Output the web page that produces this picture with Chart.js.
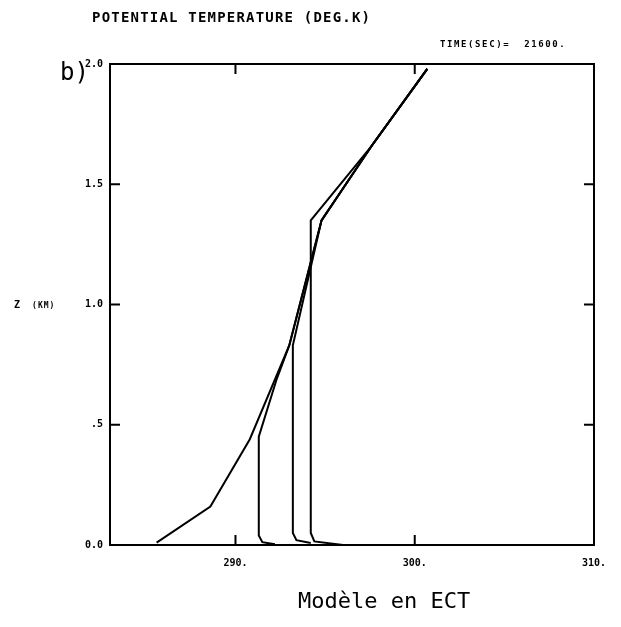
<!DOCTYPE html>
<html>
<head>
<meta charset="utf-8">
<script src="https://cdn.jsdelivr.net/npm/chart.js@4.4.1/dist/chart.umd.min.js"></script>
<style>
  html, body { margin: 0; padding: 0; background: #fff; }
  #wrap { position: relative; width: 621px; height: 627px; }
  #c { position: absolute; left: 0; top: 0; }
  .t { position: absolute; font-family: "DejaVu Sans Mono", monospace; color: #000; white-space: pre; }
</style>
</head>
<body>
<div id="wrap">
  <canvas id="c" width="621" height="627"></canvas>
  <div class="t" style="left:92px; top:9px; font-size:14px; font-weight:bold; letter-spacing:1.2px;">POTENTIAL TEMPERATURE (DEG.K)</div>
  <div class="t" style="left:440px; top:39px; font-size:9px; font-weight:bold; letter-spacing:1.6px;">TIME(SEC)=  21600.</div>
  <div class="t" style="left:60px; top:58px; font-size:24px;">b)</div>
  <div class="t" style="left:14px; top:299px; font-size:10px; font-weight:bold;">Z  <span style="font-size:8px; letter-spacing:1px;">(KM)</span></div>
  <div class="t" style="left:298px; top:588px; font-size:22px;">Modèle en ECT</div>
</div>
<script>
// Axis ticks
const xTicks = [290, 300, 310];
const xTickLabels = ['290.', '300.', '310.'];
const yTicks = [0, 0.5, 1.0, 1.5, 2.0];
const yTickLabels = ['0.0', '.5', '1.0', '1.5', '2.0'];

// Potential temperature profiles (deg K) versus height (km)
const profileA_theta = [285.6, 288.6, 290.8, 293.0, 294.8, 297.6, 300.7];
const profileA_z     = [0.01, 0.16, 0.44, 0.83, 1.35, 1.66, 1.98];
const profileB_theta = [292.2, 291.5, 291.3, 291.3, 292.3, 293.0, 294.8, 297.6, 300.7];
const profileB_z     = [0.003, 0.012, 0.04, 0.45, 0.69, 0.83, 1.35, 1.66, 1.98];
const profileC_theta = [294.2, 293.4, 293.2, 293.2, 294.8, 297.6, 300.7];
const profileC_z     = [0.008, 0.02, 0.05, 0.83, 1.35, 1.66, 1.98];
const profileD_theta = [296.0, 294.4, 294.2, 294.2, 297.6, 300.7];
const profileD_z     = [0.0, 0.015, 0.05, 1.35, 1.66, 1.98];

function pts(th, z) { return th.map((t, i) => ({ x: t, y: z[i] })); }
function ds(th, z) {
  return { data: pts(th, z), showLine: true, borderColor: '#000', borderWidth: 2,
           pointRadius: 0, fill: false, tension: 0 };
}

const boxTicks = {
  id: 'boxTicks',
  afterDraw(chart) {
    const { ctx, chartArea: a, scales } = chart;
    ctx.save();
    ctx.strokeStyle = '#000';
    ctx.lineWidth = 2;
    ctx.strokeRect(a.left, a.top, a.right - a.left, a.bottom - a.top);
    const L = 10;
    ctx.beginPath();
    xTicks.forEach(v => {
      const px = scales.x.getPixelForValue(v);
      ctx.moveTo(px, a.bottom); ctx.lineTo(px, a.bottom - L);
      ctx.moveTo(px, a.top); ctx.lineTo(px, a.top + L);
    });
    yTicks.forEach(v => {
      const py = scales.y.getPixelForValue(v);
      ctx.moveTo(a.left, py); ctx.lineTo(a.left + L, py);
      ctx.moveTo(a.right, py); ctx.lineTo(a.right - L, py);
    });
    ctx.stroke();
    ctx.restore();
  }
};

new Chart(document.getElementById('c'), {
  type: 'scatter',
  data: { datasets: [
    ds(profileA_theta, profileA_z),
    ds(profileB_theta, profileB_z),
    ds(profileC_theta, profileC_z),
    ds(profileD_theta, profileD_z)
  ] },
  options: {
    responsive: false,
    animation: false,
    layout: { padding: { top: 64, right: 27, bottom: 0, left: 0 } },
    plugins: { legend: { display: false }, tooltip: { enabled: false } },
    scales: {
      x: {
        type: 'linear', min: 283, max: 310,
        afterBuildTicks(s) { s.ticks = xTicks.map(v => ({ value: v })); },
        afterFit(s) { s.height = 82; },
        grid: { display: false, drawTicks: false },
        border: { display: false },
        ticks: {
          padding: 12, color: '#000', maxRotation: 0,
          font: { family: 'DejaVu Sans Mono', size: 10, weight: 'bold' },
          callback(v) { const i = xTicks.indexOf(v); return i >= 0 ? xTickLabels[i] : ''; }
        }
      },
      y: {
        type: 'linear', min: 0, max: 2,
        afterBuildTicks(s) { s.ticks = yTicks.map(v => ({ value: v })); },
        afterFit(s) { s.width = 110; },
        grid: { display: false, drawTicks: false },
        border: { display: false },
        ticks: {
          padding: 7, color: '#000',
          font: { family: 'DejaVu Sans Mono', size: 10, weight: 'bold' },
          callback(v) { const i = yTicks.indexOf(v); return i >= 0 ? yTickLabels[i] : ''; }
        }
      }
    }
  },
  plugins: [boxTicks]
});
</script>
</body>
</html>
